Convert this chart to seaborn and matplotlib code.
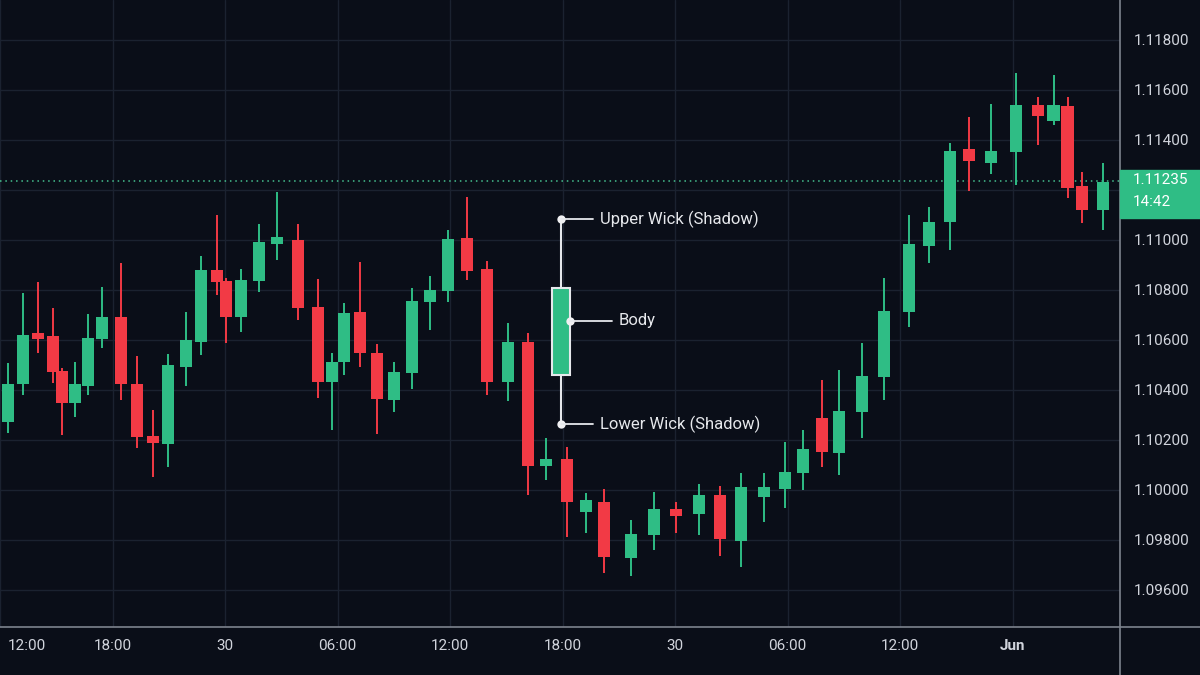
import numpy as np
import pandas as pd
import seaborn as sns
import matplotlib.pyplot as plt
import matplotlib.transforms as mtransforms
from matplotlib.patches import Rectangle
from matplotlib.lines import Line2D

###############################################################################
# Candle data (hours since 12:00 on the 29th, EURUSD-like prices)
hours = [0.43, 1.23, 2.03, 2.83, 3.31, 4.00, 4.69, 5.44, 6.45, 7.31,
         8.16, 8.96, 9.92, 10.72, 11.57, 12.05, 12.85, 13.81, 14.77, 15.89,
         16.96, 17.71, 18.35, 19.20, 20.11, 21.01, 21.97, 22.93, 23.89, 24.91,
         25.97, 27.09, 28.16, 29.12, 30.24, 31.25, 32.21, 33.65, 34.88, 36.05,
         37.28, 38.40, 39.52, 40.75, 41.87, 42.83, 43.84, 44.75, 45.97, 47.15,
         48.48, 49.55, 50.67, 51.68, 52.85, 54.19, 55.36, 56.20, 56.95, 57.71,
         58.83]
opens = [1.10272, 1.10424, 1.10628, 1.10616, 1.10476, 1.10348, 1.10416, 1.10604, 1.10692, 1.10424,
         1.10216, 1.10184, 1.10492, 1.10592, 1.10880, 1.10836, 1.10692, 1.10836, 1.10984, 1.11000,
         1.10732, 1.10432, 1.10512, 1.10712, 1.10548, 1.10360, 1.10468, 1.10752, 1.10796, 1.11008,
         1.10884, 1.10432, 1.10592, 1.10096, 1.10124, 1.09912, 1.09952, 1.09728, 1.09820, 1.09924,
         1.09904, 1.09980, 1.09796, 1.09972, 1.10004, 1.10068, 1.10288, 1.10148, 1.10312, 1.10452,
         1.10712, 1.10976, 1.11072, 1.11364, 1.11308, 1.11352, 1.11540, 1.11476, 1.11536, 1.11216,
         1.11120]
highs = [1.10508, 1.10788, 1.10832, 1.10728, 1.10488, 1.10512, 1.10704, 1.10812, 1.10908, 1.10536,
         1.10320, 1.10544, 1.10712, 1.10936, 1.11100, 1.10848, 1.10884, 1.11064, 1.11192, 1.11064,
         1.10844, 1.10548, 1.10748, 1.10912, 1.10584, 1.10512, 1.10808, 1.10856, 1.11040, 1.11172,
         1.10916, 1.10668, 1.10628, 1.10208, 1.10172, 1.09988, 1.10004, 1.09880, 1.09992, 1.09952,
         1.10024, 1.10016, 1.10068, 1.10068, 1.10192, 1.10240, 1.10440, 1.10480, 1.10588, 1.10848,
         1.11100, 1.11132, 1.11388, 1.11492, 1.11544, 1.11668, 1.11572, 1.11660, 1.11572, 1.11272,
         1.11308]
lows = [1.10228, 1.10380, 1.10548, 1.10428, 1.10220, 1.10292, 1.10380, 1.10568, 1.10360, 1.10168,
        1.10052, 1.10092, 1.10416, 1.10540, 1.10780, 1.10588, 1.10632, 1.10792, 1.10920, 1.10680,
        1.10368, 1.10240, 1.10460, 1.10492, 1.10224, 1.10312, 1.10404, 1.10640, 1.10752, 1.10840,
        1.10380, 1.10356, 1.09980, 1.10040, 1.09812, 1.09828, 1.09668, 1.09656, 1.09760, 1.09828,
        1.09820, 1.09736, 1.09692, 1.09872, 1.09928, 1.10000, 1.10092, 1.10060, 1.10208, 1.10360,
        1.10652, 1.10908, 1.10960, 1.11196, 1.11264, 1.11220, 1.11380, 1.11460, 1.11168, 1.11068,
        1.11040]
closes = [1.10424, 1.10620, 1.10604, 1.10472, 1.10348, 1.10424, 1.10608, 1.10692, 1.10424, 1.10212,
          1.10188, 1.10500, 1.10600, 1.10880, 1.10832, 1.10692, 1.10840, 1.10992, 1.11012, 1.10728,
          1.10432, 1.10512, 1.10708, 1.10548, 1.10364, 1.10472, 1.10756, 1.10800, 1.11004, 1.10876,
          1.10432, 1.10592, 1.10096, 1.10124, 1.09952, 1.09960, 1.09732, 1.09824, 1.09924, 1.09896,
          1.09980, 1.09804, 1.10012, 1.10012, 1.10072, 1.10164, 1.10152, 1.10316, 1.10456, 1.10716,
          1.10984, 1.11072, 1.11356, 1.11316, 1.11356, 1.11540, 1.11496, 1.11540, 1.11208, 1.11120,
          1.11232]

last_price = 1.11235
last_time = "14:42"

# the illustrative candle used for the labels
demo_hour = 29.92
demo_open, demo_high, demo_low, demo_close = 1.10460, 1.11084, 1.10264, 1.10808
demo_body_mark = 1.10676

tick_hours = [0, 6, 12, 18, 24, 30, 36, 42, 48, 54]
tick_labels = ["12:00", "18:00", "30", "06:00", "12:00", "18:00", "30", "06:00", "12:00", "Jun"]
price_ticks = [1.096, 1.098, 1.100, 1.102, 1.104, 1.106, 1.108, 1.110, 1.112, 1.114, 1.116, 1.118]

###############################################################################
BG = "#0a0e18"
GREEN = "#2fbd85"
RED = "#f23a45"
GRID = "#1b2230"
TEXT = "#d1d4dc"
SEP = "#7d838d"

sns.set_style("dark", rc={"axes.facecolor": BG, "figure.facecolor": BG,
                          "grid.color": GRID, "axes.grid": True})
plt.rcParams["font.family"] = ["Roboto", "DejaVu Sans"]

df = pd.DataFrame({"hour": hours, "open": opens, "high": highs,
                   "low": lows, "close": closes})
df["up"] = df["close"] >= df["open"]
df["color"] = np.where(df["up"], GREEN, RED)

fig = plt.figure(figsize=(12, 6.75), dpi=100)
ax = fig.add_axes([0, 48 / 675, 1120 / 1200, 627 / 675])

# wicks then bodies
ax.vlines(df["hour"], df["low"], df["high"], colors=df["color"], lw=1.4, zorder=2)
ax.bar(df["hour"], (df["close"] - df["open"]).abs(),
       bottom=df[["open", "close"]].min(axis=1),
       width=0.68, color=df["color"], linewidth=0, zorder=3)

# last price line
ax.axhline(last_price, color="#45c08f", ls=(0, (1, 2.5)), lw=1.1, zorder=1)

# demo candle with labels
ax.vlines(demo_hour, demo_low, demo_high, colors="#e6e8ec", lw=1.5, zorder=5)
ax.bar(demo_hour, demo_close - demo_open, bottom=demo_open, width=0.96,
       color=GREEN, edgecolor="#e6e8ec", linewidth=1.5, zorder=6)
half_w = 0.48
dots = pd.DataFrame({"x": [demo_hour, demo_hour + half_w, demo_hour],
                     "y": [demo_high, demo_body_mark, demo_low]})
sns.scatterplot(data=dots, x="x", y="y", color="#f0f0f2", s=36,
                linewidth=0, zorder=7, ax=ax)
label_kw = dict(color="#e6e8ec", fontsize=12, va="center", ha="left", zorder=8)
for (x, y), end, txt in zip(dots[["x", "y"]].values,
                            [demo_hour + 1.7, demo_hour + 2.72, demo_hour + 1.7],
                            ["Upper Wick (Shadow)", "Body", "Lower Wick (Shadow)"]):
    ax.plot([x, end], [y, y], color="#e6e8ec", lw=1.3, zorder=7)
    ax.text(end + 0.37, y, txt, **label_kw)

# axes limits, ticks, grid
ax.set_xlim(0, 1120 / 18.75)
ax.set_ylim(1.09452, 1.1196)
ax.set_xlabel("")
ax.set_ylabel("")
ax.set_xticks(tick_hours)
ax.set_xticklabels(tick_labels)
ax.set_yticks(price_ticks)
# the 1.11200 label sits under the last price tag, so it is left blank
ax.set_yticklabels(["" if abs(p - 1.112) < 1e-9 else f"{p:.5f}" for p in price_ticks])
ax.yaxis.tick_right()
ax.tick_params(axis="x", length=0, pad=9, labelsize=11, labelcolor=TEXT)
ax.tick_params(axis="y", length=0, pad=10, labelsize=11, labelcolor=TEXT)
ax.grid(True, color=GRID, lw=1)
for lab in ax.get_xticklabels():
    if lab.get_text() == "Jun":
        lab.set_fontweight("bold")
first = ax.get_xticklabels()[0]
first.set_horizontalalignment("left")
first.set_transform(first.get_transform() +
                    mtransforms.ScaledTranslation(8 / 100, 0, fig.dpi_scale_trans))
for s in ax.spines.values():
    s.set_visible(False)

# separators between plot and scales
fig.add_artist(Line2D([0, 1], [48 / 675, 48 / 675], color=SEP, lw=1.2))
fig.add_artist(Line2D([1120 / 1200, 1120 / 1200], [0, 1], color=SEP, lw=1.2))

# last price tag on the price scale
tag_tr = mtransforms.blended_transform_factory(fig.transFigure, ax.transData)
fig.add_artist(Rectangle((1120 / 1200, last_price - 0.00148), 80 / 1200, 0.00192,
                         transform=tag_tr, color=GREEN, zorder=5))
fig.text(1133 / 1200, last_price + 0.00004, f"{last_price:.5f}", transform=tag_tr,
         color="white", fontsize=11, va="center", ha="left", zorder=6)
fig.text(1133 / 1200, last_price - 0.00084, last_time, transform=tag_tr,
         color="white", fontsize=11, va="center", ha="left", zorder=6)

fig.savefig("out.png", dpi=100, facecolor=BG)
